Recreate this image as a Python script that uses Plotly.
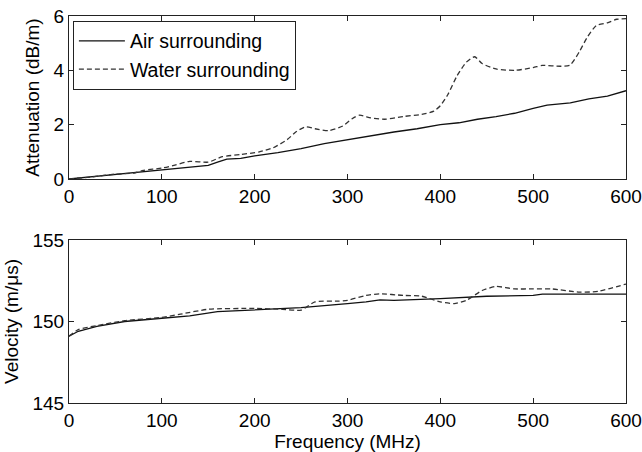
import plotly.graph_objects as go
from plotly.subplots import make_subplots

# Attenuation data (MHz, dB/m)
att_air_f = [0, 25, 50, 75, 100, 125, 150, 160, 170, 185, 200, 225, 250, 275, 300, 325, 350, 375, 400, 420, 440, 460, 480, 500, 515, 540, 560, 580, 590, 600]
att_air_v = [0.0, 0.08, 0.17, 0.25, 0.33, 0.42, 0.5, 0.62, 0.73, 0.76, 0.85, 0.97, 1.12, 1.3, 1.45, 1.58, 1.73, 1.85, 2.0, 2.07, 2.2, 2.3, 2.42, 2.6, 2.72, 2.8, 2.95, 3.05, 3.15, 3.25]

att_wat_f = [0, 25, 50, 70, 80, 100, 115, 130, 150, 165, 185, 205, 220, 235, 245, 255, 265, 280, 295, 305, 313, 325, 340, 360, 380, 393, 400, 408, 418, 428, 437, 445, 460, 480, 500, 510, 530, 540, 550, 558, 568, 580, 590, 600]
att_wat_v = [0.0, 0.08, 0.18, 0.22, 0.32, 0.4, 0.52, 0.65, 0.62, 0.82, 0.9, 1.0, 1.15, 1.45, 1.75, 1.92, 1.85, 1.78, 1.95, 2.22, 2.35, 2.25, 2.2, 2.3, 2.38, 2.5, 2.7, 3.1, 3.8, 4.3, 4.5, 4.25, 4.05, 4.0, 4.1, 4.18, 4.15, 4.2, 4.7, 5.2, 5.65, 5.75, 5.88, 5.9]

# Velocity data (MHz, m/us)
vel_air_f = [0, 10, 30, 60, 100, 130, 160, 200, 250, 300, 320, 335, 350, 400, 430, 450, 500, 510, 600]
vel_air_v = [149.1, 149.4, 149.7, 150.0, 150.2, 150.35, 150.6, 150.7, 150.85, 151.1, 151.2, 151.33, 151.3, 151.4, 151.5, 151.55, 151.6, 151.68, 151.68]

vel_wat_f = [0, 10, 30, 60, 100, 120, 150, 200, 230, 250, 265, 290, 300, 320, 335, 360, 380, 400, 415, 428, 445, 460, 480, 500, 520, 550, 570, 600]
vel_wat_v = [149.1, 149.5, 149.75, 150.05, 150.25, 150.45, 150.75, 150.8, 150.75, 150.7, 151.2, 151.25, 151.3, 151.6, 151.7, 151.6, 151.55, 151.2, 151.1, 151.3, 151.9, 152.15, 152.0, 152.0, 152.0, 151.8, 151.85, 152.3]

x_ticks = [0, 100, 200, 300, 400, 500, 600]
att_ticks = [0, 2, 4, 6]
vel_ticks = [145, 150, 155]

fig = make_subplots(rows=2, cols=1, vertical_spacing=0.1576)

solid = dict(color="#111111", width=1.3)
dashed = dict(color="#333333", width=1.3, dash="5px,3px", shape="spline", smoothing=0.6)

fig.add_trace(go.Scatter(x=att_air_f, y=att_air_v, mode="lines", name="Air surrounding",
                         line=solid), row=1, col=1)
fig.add_trace(go.Scatter(x=att_wat_f, y=att_wat_v, mode="lines", name="Water surrounding",
                         line=dashed), row=1, col=1)
fig.add_trace(go.Scatter(x=vel_air_f, y=vel_air_v, mode="lines", showlegend=False,
                         line=solid), row=2, col=1)
fig.add_trace(go.Scatter(x=vel_wat_f, y=vel_wat_v, mode="lines", showlegend=False,
                         line=dashed), row=2, col=1)

fam = "Liberation Sans, Arial, sans-serif"
font = dict(family=fam, size=19, color="#000000")
axis_common = dict(showline=True, linecolor="#222222", linewidth=1, mirror="allticks",
                   ticks="inside", ticklen=5, tickcolor="#222222", showgrid=False, zeroline=False,
                   tickfont=font, automargin=False)

fig.update_xaxes(range=[0, 600], tickvals=x_ticks, **axis_common)
fig.update_yaxes(**axis_common)
fig.update_yaxes(range=[0, 6], tickvals=att_ticks, row=1, col=1,
                 title=dict(text="Attenuation (dB/m)", font=font, standoff=8))
fig.update_yaxes(range=[145, 155], tickvals=vel_ticks, row=2, col=1,
                 title=dict(text="Velocity (m/\u03bcs)", font=font, standoff=8))
fig.update_xaxes(row=2, col=1, title=dict(text="Frequency (MHz)", font=font, standoff=0))

fig.update_layout(
    width=642, height=452,
    margin=dict(l=69, r=16, t=16, b=49),
    paper_bgcolor="white", plot_bgcolor="white",
    font=font,
    legend=dict(x=0.007, y=0.988, xanchor="left", yanchor="top",
                bgcolor="white", bordercolor="#222222", borderwidth=1,
                font=dict(family=fam, size=19.5, color="#000000"),
                tracegroupgap=0, itemwidth=46),
)

fig.write_html("out.html", config={"displayModeBar": False},
               post_script="document.body.style.margin='0';document.body.style.overflow='hidden';")
